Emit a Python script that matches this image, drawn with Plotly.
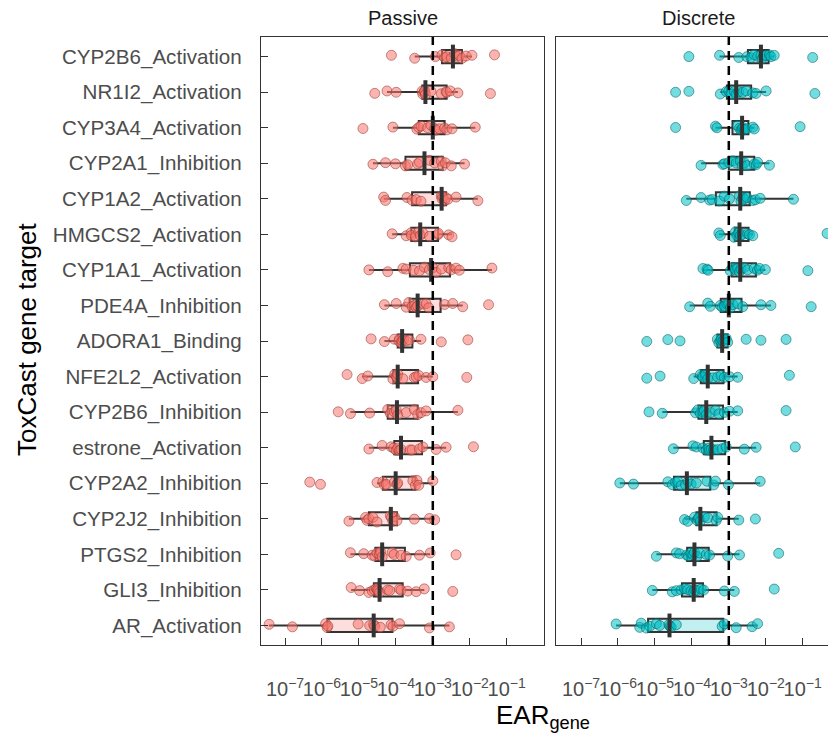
import numpy as np
import plotly.graph_objects as go

# ---------------- data (log10 of EAR_gene) ----------------
categories = [
    "CYP2B6_Activation", "NR1I2_Activation", "CYP3A4_Activation", "CYP2A1_Inhibition",
    "CYP1A2_Activation", "HMGCS2_Activation", "CYP1A1_Activation", "PDE4A_Inhibition",
    "ADORA1_Binding", "NFE2L2_Activation", "CYP2B6_Inhibition", "estrone_Activation",
    "CYP2A2_Inhibition", "CYP2J2_Inhibition", "PTGS2_Inhibition", "GLI3_Inhibition",
    "AR_Activation",
]
panels = ["Passive", "Discrete"]
threshold_log10 = -3
tick_exponents = [-7, -6, -5, -4, -3, -2, -1]

passive_CYP2B6_Activation = [-4.12, -3.49, -2.93, -2.75, -2.68, -2.62, -2.50, -2.41, -2.35, -2.28, -2.21, -2.10, -1.94, -1.33]
passive_NR1I2_Activation = [-4.57, -4.24, -3.99, -3.29, -3.27, -3.23, -3.22, -3.20, -3.05, -2.77, -2.64, -2.62, -2.53, -2.32, -1.44]
passive_CYP3A4_Activation = [-4.89, -4.08, -3.43, -3.38, -3.32, -3.14, -3.05, -2.95, -2.91, -2.82, -2.68, -2.62, -2.48, -1.85]
passive_CYP2A1_Inhibition = [-4.62, -4.28, -4.01, -3.74, -3.68, -3.41, -3.36, -3.09, -2.95, -2.77, -2.73, -2.66, -2.50, -2.14]
passive_CYP1A2_Activation = [-4.33, -4.28, -3.70, -3.56, -3.45, -3.32, -2.77, -2.75, -2.73, -2.68, -2.64, -2.59, -2.37, -1.78]
passive_HMGCS2_Activation = [-4.10, -3.72, -3.59, -3.58, -3.47, -3.38, -3.34, -3.27, -3.09, -2.86, -2.85, -2.57, -2.48]
passive_CYP1A1_Activation = [-4.73, -4.22, -3.81, -3.72, -3.52, -3.36, -3.23, -3.09, -3.00, -2.91, -2.77, -2.57, -2.50, -2.37, -2.28, -1.40]
passive_PDE4A_Inhibition = [-4.31, -3.99, -3.72, -3.65, -3.56, -3.49, -3.45, -3.41, -3.25, -3.18, -3.11, -2.68, -2.46, -2.19, -1.49]
passive_ADORA1_Binding = [-4.67, -4.31, -4.04, -3.92, -3.90, -3.86, -3.83, -3.79, -3.72, -3.63, -3.32, -2.77, -2.05]
passive_NFE2L2_Activation = [-5.32, -4.91, -4.76, -4.08, -4.03, -3.99, -3.97, -3.95, -3.81, -3.50, -3.45, -3.38, -3.18, -3.00, -2.08]
passive_CYP2B6_Inhibition = [-5.56, -5.23, -4.71, -4.22, -4.15, -4.04, -3.99, -3.95, -3.72, -3.50, -3.41, -3.32, -3.18, -2.32]
passive_estrone_Activation = [-4.73, -4.37, -4.13, -4.06, -3.99, -3.95, -3.90, -3.86, -3.61, -3.56, -3.36, -3.27, -2.91, -2.64, -1.90]
passive_CYP2A2_Inhibition = [-6.33, -6.04, -4.51, -4.35, -4.31, -4.26, -4.04, -3.97, -3.95, -3.54, -3.47, -3.43, -3.38, -3.00]
passive_CYP2J2_Inhibition = [-5.27, -4.82, -4.78, -4.73, -4.62, -4.51, -4.15, -4.12, -4.08, -4.04, -3.97, -3.50, -3.09, -2.95]
passive_PTGS2_Inhibition = [-5.23, -4.87, -4.64, -4.57, -4.51, -4.44, -4.41, -4.37, -4.10, -4.05, -3.86, -3.72, -3.36, -3.07, -2.37]
passive_GLI3_Inhibition = [-5.21, -4.98, -4.73, -4.64, -4.58, -4.53, -4.50, -4.48, -4.44, -4.22, -4.17, -3.90, -3.86, -3.68, -3.45, -3.23, -2.46]
passive_AR_Activation = [-7.43, -6.80, -5.90, -5.86, -5.84, -5.02, -4.71, -4.60, -4.57, -4.42, -4.13, -4.08, -3.90, -3.09, -2.55]

discrete_CYP2B6_Activation = [-4.08, -3.25, -2.73, -2.51, -2.40, -2.31, -2.22, -2.13, -2.10, -2.06, -1.99, -1.90, -1.86, -1.77, -0.73]
discrete_NR1I2_Activation = [-4.44, -4.08, -3.23, -3.07, -3.00, -2.94, -2.85, -2.80, -2.73, -2.62, -2.53, -2.35, -2.26, -1.99, -0.67]
discrete_CYP3A4_Activation = [-4.44, -3.36, -3.32, -2.76, -2.71, -2.67, -2.64, -2.62, -2.58, -2.51, -2.35, -2.31, -1.07]
discrete_CYP2A1_Inhibition = [-3.75, -3.16, -3.12, -3.00, -2.89, -2.80, -2.69, -2.64, -2.58, -2.51, -2.31, -2.26, -2.22, -1.90]
discrete_CYP1A2_Activation = [-4.15, -3.75, -3.52, -3.45, -3.25, -3.12, -2.98, -2.71, -2.67, -2.62, -2.58, -2.51, -2.35, -2.28, -2.15, -1.25]
discrete_HMGCS2_Activation = [-3.27, -3.23, -2.86, -2.82, -2.78, -2.73, -2.69, -2.64, -2.49, -2.44, -2.35, -0.34]
discrete_CYP1A1_Activation = [-3.70, -3.59, -3.56, -2.96, -2.89, -2.82, -2.76, -2.71, -2.67, -2.58, -2.49, -2.31, -2.22, -2.17, -2.01, -0.86]
discrete_PDE4A_Inhibition = [-4.06, -3.57, -3.50, -3.23, -3.18, -3.12, -3.05, -3.00, -2.96, -2.89, -2.76, -2.62, -2.13, -1.86, -0.77]
discrete_ADORA1_Binding = [-5.22, -4.65, -4.32, -3.31, -3.27, -3.23, -3.20, -3.16, -3.13, -3.07, -3.03, -2.53, -2.13, -1.45]
discrete_NFE2L2_Activation = [-5.22, -4.86, -3.95, -3.77, -3.72, -3.70, -3.63, -3.57, -3.43, -3.30, -3.21, -3.12, -2.98, -2.76, -1.36]
discrete_CYP2B6_Inhibition = [-5.16, -4.80, -3.90, -3.84, -3.77, -3.70, -3.66, -3.61, -3.48, -3.36, -3.27, -3.12, -2.98, -2.76, -1.45]
discrete_estrone_Activation = [-4.50, -3.97, -3.88, -3.70, -3.61, -3.54, -3.52, -3.47, -3.41, -3.30, -3.18, -3.07, -2.58, -2.26, -1.20]
discrete_CYP2A2_Inhibition = [-5.95, -5.58, -4.65, -4.53, -4.44, -4.38, -4.29, -4.17, -4.10, -4.02, -3.88, -3.59, -3.41, -3.36, -3.01, -2.15]
discrete_CYP2J2_Inhibition = [-4.20, -4.11, -3.93, -3.86, -3.83, -3.81, -3.77, -3.66, -3.57, -3.34, -3.30, -2.73, -2.28]
discrete_PTGS2_Inhibition = [-4.96, -4.42, -4.33, -4.14, -4.09, -4.03, -3.97, -3.93, -3.86, -3.79, -3.61, -3.52, -3.03, -2.71, -1.65]
discrete_GLI3_Inhibition = [-5.07, -4.53, -4.42, -4.29, -4.20, -4.11, -4.02, -3.95, -3.92, -3.86, -3.75, -3.68, -3.12, -2.85, -1.77]
discrete_AR_Activation = [-6.05, -5.41, -5.37, -5.23, -5.14, -4.96, -4.87, -4.62, -4.59, -4.56, -4.42, -3.18, -3.12, -2.80, -2.37, -2.22]

passive_values = [
    passive_CYP2B6_Activation, passive_NR1I2_Activation, passive_CYP3A4_Activation,
    passive_CYP2A1_Inhibition, passive_CYP1A2_Activation, passive_HMGCS2_Activation,
    passive_CYP1A1_Activation, passive_PDE4A_Inhibition, passive_ADORA1_Binding,
    passive_NFE2L2_Activation, passive_CYP2B6_Inhibition, passive_estrone_Activation,
    passive_CYP2A2_Inhibition, passive_CYP2J2_Inhibition, passive_PTGS2_Inhibition,
    passive_GLI3_Inhibition, passive_AR_Activation,
]
discrete_values = [
    discrete_CYP2B6_Activation, discrete_NR1I2_Activation, discrete_CYP3A4_Activation,
    discrete_CYP2A1_Inhibition, discrete_CYP1A2_Activation, discrete_HMGCS2_Activation,
    discrete_CYP1A1_Activation, discrete_PDE4A_Inhibition, discrete_ADORA1_Binding,
    discrete_NFE2L2_Activation, discrete_CYP2B6_Inhibition, discrete_estrone_Activation,
    discrete_CYP2A2_Inhibition, discrete_CYP2J2_Inhibition, discrete_PTGS2_Inhibition,
    discrete_GLI3_Inhibition, discrete_AR_Activation,
]

# ---------------- styling ----------------
W, H = 828, 733
FONT = "Liberation Sans, Arial, sans-serif"
DARK = "#333333"
GREY = "#4D4D4D"
styles = {
    "Passive": dict(fill="rgba(248,118,109,0.24)", pt="rgba(248,118,109,0.55)", ptl="rgba(150,55,50,0.55)"),
    "Discrete": dict(fill="rgba(0,191,196,0.24)", pt="rgba(0,191,196,0.55)", ptl="rgba(0,95,98,0.55)"),
}

fig = go.Figure()
for i, (panel, values) in enumerate(zip(panels, [passive_values, discrete_values])):
    xa = "x" if i == 0 else "x2"
    ya = "y" if i == 0 else "y2"
    st = styles[panel]
    xs, ys = [], []
    for cat, vals in zip(categories, values):
        xs.extend(vals)
        ys.extend([cat] * len(vals))
    fig.add_trace(go.Box(
        x=xs, y=ys, orientation="h", xaxis=xa, yaxis=ya,
        boxpoints="all", jitter=0.5, pointpos=0, whiskerwidth=0,
        fillcolor=st["fill"], line=dict(color=DARK, width=2),
        marker=dict(size=10, color=st["pt"], line=dict(color=st["ptl"], width=1)),
        showlegend=False, hoverinfo="skip",
    ))
    fig.add_trace(go.Scatter(
        x=[float(np.median(v)) for v in values], y=categories, mode="markers",
        xaxis=xa, yaxis=ya, showlegend=False, hoverinfo="skip",
        marker=dict(symbol="line-ns", size=17, line=dict(color=DARK, width=4)),
    ))
    fig.add_shape(type="line", xref=xa, yref=f"{ya} domain", x0=threshold_log10, x1=threshold_log10,
                  y0=0, y1=1, layer="above", line=dict(color="black", width=2.5, dash="9px,6px"))

tick_text = [f"10<sup>\u2212{-e}</sup>" for e in tick_exponents]
common_x = dict(
    tickmode="array", tickvals=tick_exponents, ticktext=tick_text, tickangle=0,
    ticks="inside", ticklen=7, tickwidth=1.3, tickcolor=DARK,
    showline=True, linecolor=DARK, linewidth=1.4, mirror=True,
    showgrid=False, zeroline=False, ticklabelstandoff=26,
    tickfont=dict(family=FONT, size=20, color=GREY),
)
ydom = [(H - 645) / H, (H - 37) / H]
cat_order = list(reversed(categories))
fig.update_layout(
    width=W, height=H, margin=dict(l=0, r=0, t=0, b=0),
    paper_bgcolor="white", plot_bgcolor="white", boxgap=0.47,
    font=dict(family=FONT, color="black"),
    xaxis=dict(domain=[261 / W, 544 / W], range=[-7.65, 0.01], anchor="y", **common_x),
    xaxis2=dict(domain=[556 / W, 1.0], range=[-7.677, -0.315], anchor="y2", **common_x),
    yaxis=dict(domain=ydom, type="category", categoryorder="array", categoryarray=cat_order,
               range=[-0.55, 16.55], ticks="inside", ticklen=7, tickwidth=1.3, tickcolor=DARK,
               showline=True, linecolor=DARK, linewidth=1.4, mirror=True, showgrid=False,
               ticklabelstandoff=14, tickfont=dict(family=FONT, size=20.6, color=GREY), anchor="x"),
    yaxis2=dict(domain=ydom, type="category", categoryorder="array", categoryarray=cat_order,
                range=[-0.55, 16.55], ticks="", showticklabels=False,
                showline=True, linecolor=DARK, linewidth=1.4, mirror=False, showgrid=False, anchor="x2"),
    annotations=[
        dict(text="Passive", x=402.5 / W, y=1 - 18 / H, xref="paper", yref="paper", showarrow=False,
             xanchor="center", yanchor="middle", font=dict(family=FONT, size=20, color="#1A1A1A")),
        dict(text="Discrete", x=698 / W, y=1 - 18 / H, xref="paper", yref="paper", showarrow=False,
             xanchor="center", yanchor="middle", font=dict(family=FONT, size=20, color="#1A1A1A")),
        dict(text="ToxCast gene target", x=27 / W, y=1 - 340 / H, xref="paper", yref="paper",
             showarrow=False, textangle=-90, xanchor="center", yanchor="middle",
             font=dict(family=FONT, size=26, color="black")),
        dict(text="EAR<sub>gene</sub>", x=543 / W, y=1 - 716 / H, xref="paper", yref="paper",
             showarrow=False, xanchor="center", yanchor="middle",
             font=dict(family=FONT, size=26, color="black")),
    ],
)

fig.write_html("out.html")
